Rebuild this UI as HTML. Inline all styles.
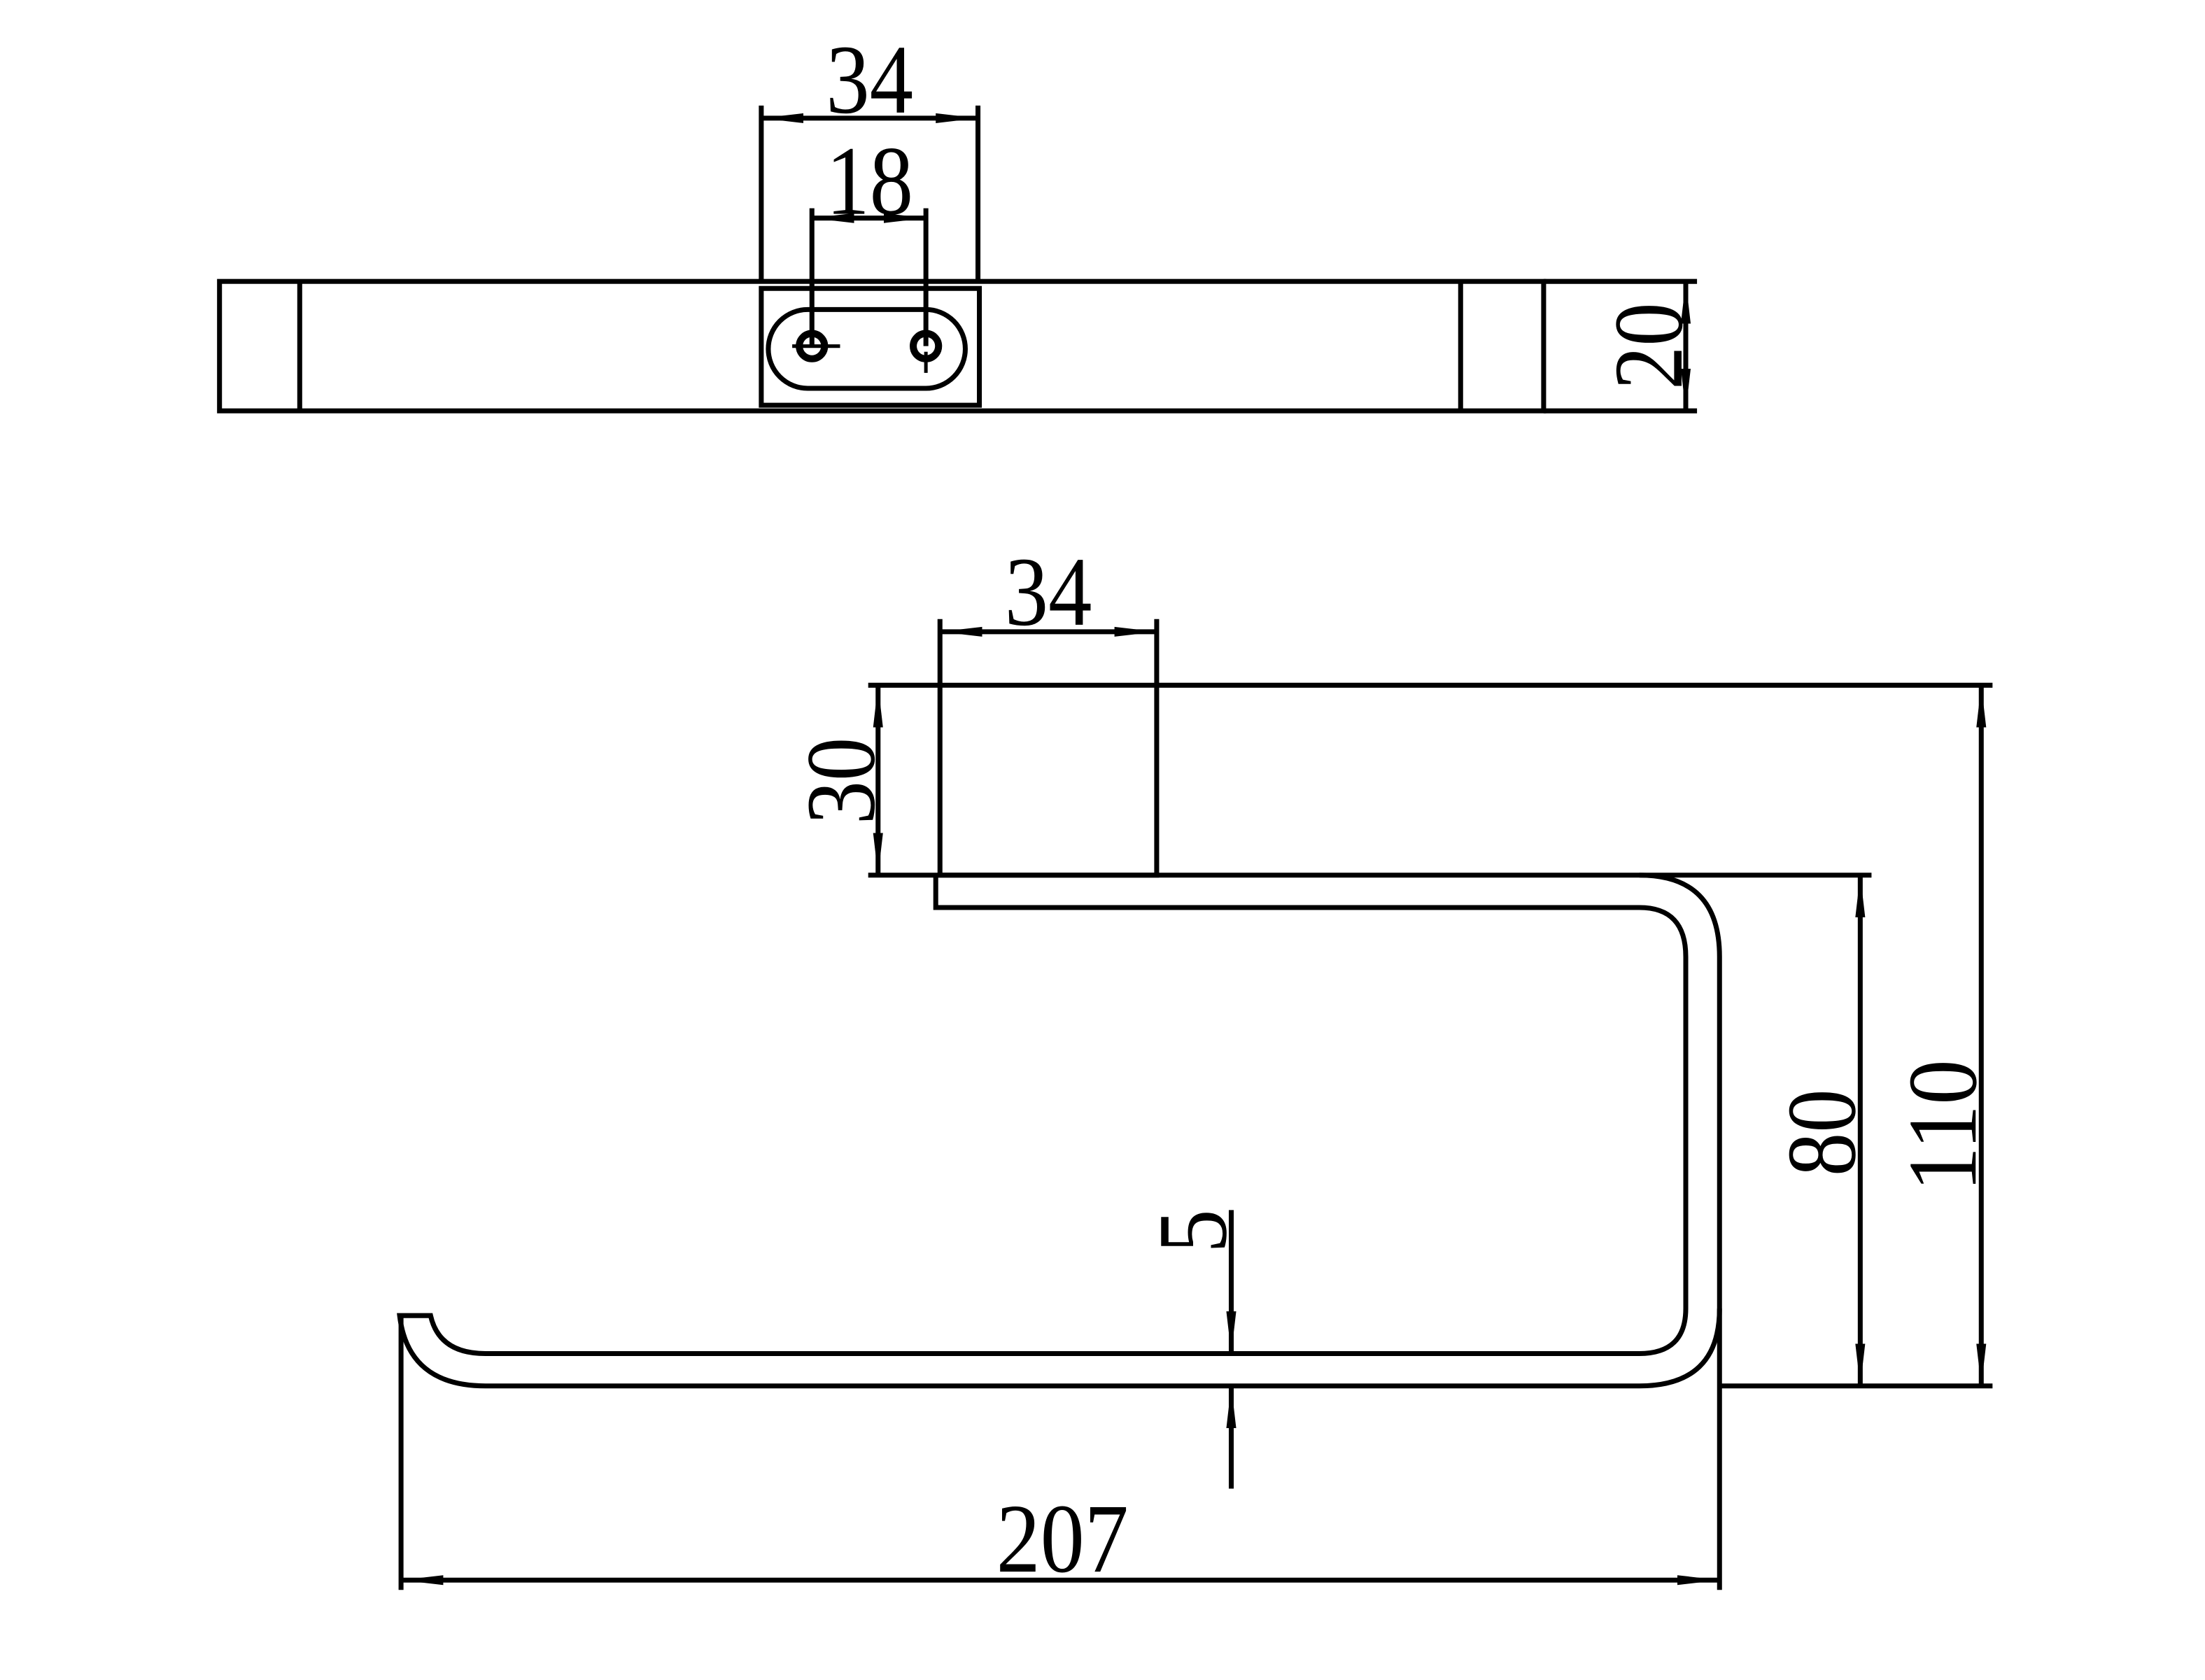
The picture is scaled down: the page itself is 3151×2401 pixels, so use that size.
<!DOCTYPE html>
<html><head><meta charset="utf-8"><style>html,body{margin:0;padding:0;background:#fff}svg{display:block}</style></head>
<body>
<svg width="3151" height="2401" viewBox="0 0 1567 1194" preserveAspectRatio="none" xmlns="http://www.w3.org/2000/svg">
<defs>
<marker id="a" viewBox="0 0 30 10" refX="30" refY="5" markerWidth="30" markerHeight="10" markerUnits="userSpaceOnUse" orient="auto-start-reverse"><path d="M0,1.5 L30,5 L0,8.5 Z" fill="#000"/></marker>
</defs>
<g fill="none" stroke="#000" stroke-width="3.5">
<rect x="156" y="200" width="941" height="92"/>
<line x1="213" y1="200" x2="213" y2="292"/>
<line x1="1038" y1="200" x2="1038" y2="292"/>
<rect x="541" y="205" width="155" height="83"/>
<rect x="546" y="220" width="140" height="56" rx="28"/>
<circle cx="577" cy="246" r="9" stroke-width="5"/>
<circle cx="658" cy="246" r="9" stroke-width="5"/>
<line x1="563" y1="246" x2="597" y2="246" stroke-width="2.5"/>
<line x1="658" y1="250" x2="658" y2="265" stroke-width="2.5"/>
<line x1="541" y1="75" x2="541" y2="200"/>
<line x1="695" y1="75" x2="695" y2="200"/>
<line x1="541" y1="84" x2="695" y2="84" marker-start="url(#a)" marker-end="url(#a)"/>
<line x1="577" y1="148" x2="577" y2="246"/>
<line x1="658" y1="148" x2="658" y2="246"/>
<line x1="577" y1="155" x2="658" y2="155" marker-start="url(#a)" marker-end="url(#a)"/>
<line x1="1097" y1="200" x2="1206" y2="200"/>
<line x1="1097" y1="292" x2="1206" y2="292"/>
<line x1="1198" y1="200" x2="1198" y2="292" marker-start="url(#a)" marker-end="url(#a)"/>
<rect x="668" y="487" width="154" height="135"/>
<line x1="617" y1="487" x2="668" y2="487"/>
<line x1="822" y1="487" x2="1416" y2="487"/>
<line x1="617" y1="622" x2="1330" y2="622"/>
<line x1="668" y1="440" x2="668" y2="487"/>
<line x1="822" y1="440" x2="822" y2="487"/>
<line x1="668" y1="449" x2="822" y2="449" marker-start="url(#a)" marker-end="url(#a)"/>
<line x1="624" y1="487" x2="624" y2="622" marker-start="url(#a)" marker-end="url(#a)"/>
<path d="M665,622 L665,645 L1165,645 Q1198,645 1198,680 L1198,930 Q1198,962 1165,962 L345,962 Q312,962 306,935 L284,935 Q290,985 345,985 L1165,985 Q1222,985 1222,930 L1222,680 Q1222,622 1165,622"/>
<line x1="1222" y1="985" x2="1416" y2="985"/>
<line x1="1322" y1="622" x2="1322" y2="985" marker-start="url(#a)" marker-end="url(#a)"/>
<line x1="1408" y1="487" x2="1408" y2="985" marker-start="url(#a)" marker-end="url(#a)"/>
<line x1="875" y1="860" x2="875" y2="962" marker-end="url(#a)"/>
<line x1="875" y1="1058" x2="875" y2="985" marker-end="url(#a)"/>
<line x1="285" y1="935" x2="285" y2="1130"/>
<line x1="1222" y1="930" x2="1222" y2="1130"/>
<line x1="285" y1="1123" x2="1222" y2="1123" marker-start="url(#a)" marker-end="url(#a)"/>
</g>
<g font-family="Liberation Serif, serif" font-size="70" fill="#000" text-anchor="middle">
<text x="618" y="80" textLength="62" lengthAdjust="spacingAndGlyphs">34</text>
<text x="618" y="152" textLength="62" lengthAdjust="spacingAndGlyphs">18</text>
<text x="745" y="444" textLength="62" lengthAdjust="spacingAndGlyphs">34</text>
<text x="755" y="1117" textLength="94" lengthAdjust="spacingAndGlyphs">207</text>
<text transform="translate(1195,246) rotate(-90)" textLength="62" lengthAdjust="spacingAndGlyphs">20</text>
<text transform="translate(621,555) rotate(-90)" textLength="62" lengthAdjust="spacingAndGlyphs">30</text>
<text transform="translate(1318,805) rotate(-90)" textLength="62" lengthAdjust="spacingAndGlyphs">80</text>
<text transform="translate(1404,800) rotate(-90)" textLength="94" lengthAdjust="spacingAndGlyphs">110</text>
<text transform="translate(871,875) rotate(-90)" textLength="31" lengthAdjust="spacingAndGlyphs">5</text>
</g>
</svg>
</body></html>
